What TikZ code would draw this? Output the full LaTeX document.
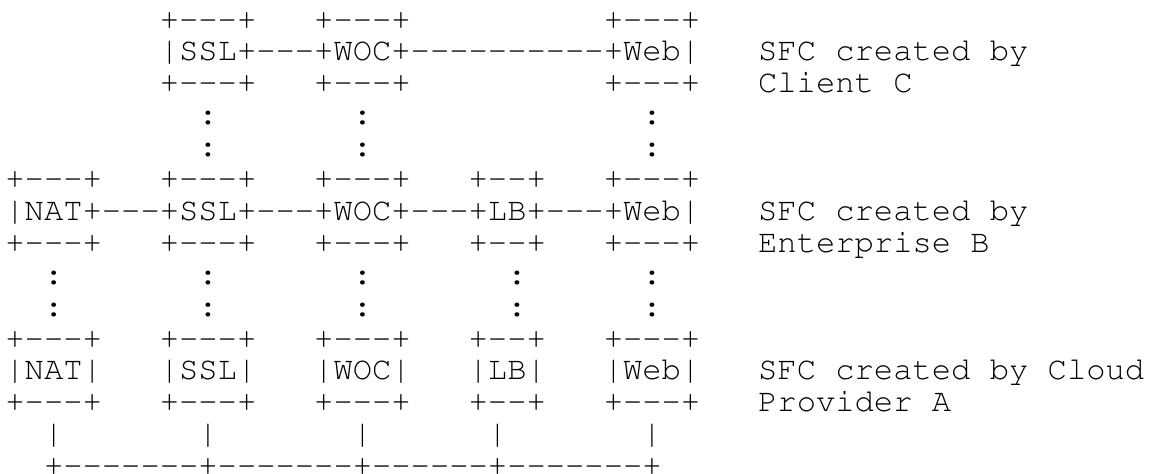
\documentclass[tikz,border=0pt]{standalone}
\usepackage[T1]{fontenc}
\usepackage{courier}
\newcommand\asciifont{\ttfamily\fontsize{32.17pt}{31.9pt}\selectfont}
\tikzset{
  asciirow/.style={anchor=base west, inner sep=0pt, outer sep=0pt, font=\asciifont, text=black}
}
\begin{document}
\begin{tikzpicture}[x=1pt,y=1pt]
  \fill[white] (0,0) rectangle (1152,474);
  \useasboundingbox (0,0) rectangle (1152,474);
  % one text row per line of the chart; baselines 31.9pt apart;
  % -{}- keeps the font from joining hyphens into dashes
  \def\rowx{5.4}
  \def\rowtop{444.9}
  \node[asciirow] (l0)  at (\rowx,\rowtop-0*31.9)  {~~~~~~~~+-{}-{}-+~~~+-{}-{}-+~~~~~~~~~~+-{}-{}-+};
  \node[asciirow] (l1)  at (\rowx,\rowtop-1*31.9)  {~~~~~~~~|SSL+-{}-{}-+WOC+-{}-{}-{}-{}-{}-{}-{}-{}-{}-+Web|~~~SFC~created~by};
  \node[asciirow] (l2)  at (\rowx,\rowtop-2*31.9)  {~~~~~~~~+-{}-{}-+~~~+-{}-{}-+~~~~~~~~~~+-{}-{}-+~~~Client~C};
  \node[asciirow] (l3)  at (\rowx,\rowtop-3*31.9)  {~~~~~~~~~~:~~~~~~~:~~~~~~~~~~~~~~:};
  \node[asciirow] (l4)  at (\rowx,\rowtop-4*31.9)  {~~~~~~~~~~:~~~~~~~:~~~~~~~~~~~~~~:};
  \node[asciirow] (l5)  at (\rowx,\rowtop-5*31.9)  {+-{}-{}-+~~~+-{}-{}-+~~~+-{}-{}-+~~~+-{}-+~~~+-{}-{}-+};
  \node[asciirow] (l6)  at (\rowx,\rowtop-6*31.9)  {|NAT+-{}-{}-+SSL+-{}-{}-+WOC+-{}-{}-+LB+-{}-{}-+Web|~~~SFC~created~by};
  \node[asciirow] (l7)  at (\rowx,\rowtop-7*31.9)  {+-{}-{}-+~~~+-{}-{}-+~~~+-{}-{}-+~~~+-{}-+~~~+-{}-{}-+~~~Enterprise~B};
  \node[asciirow] (l8)  at (\rowx,\rowtop-8*31.9)  {~~:~~~~~~~:~~~~~~~:~~~~~~~:~~~~~~:};
  \node[asciirow] (l9)  at (\rowx,\rowtop-9*31.9)  {~~:~~~~~~~:~~~~~~~:~~~~~~~:~~~~~~:};
  \node[asciirow] (l10) at (\rowx,\rowtop-10*31.9) {+-{}-{}-+~~~+-{}-{}-+~~~+-{}-{}-+~~~+-{}-+~~~+-{}-{}-+};
  \node[asciirow] (l11) at (\rowx,\rowtop-11*31.9) {|NAT|~~~|SSL|~~~|WOC|~~~|LB|~~~|Web|~~~SFC~created~by~Cloud};
  \node[asciirow] (l12) at (\rowx,\rowtop-12*31.9) {+-{}-{}-+~~~+-{}-{}-+~~~+-{}-{}-+~~~+-{}-+~~~+-{}-{}-+~~~Provider~A};
  \node[asciirow] (l13) at (\rowx,\rowtop-13*31.9) {~~|~~~~~~~|~~~~~~~|~~~~~~|~~~~~~~|};
  \node[asciirow] (l14) at (\rowx,\rowtop-14*31.9) {~~+-{}-{}-{}-{}-{}-{}-+-{}-{}-{}-{}-{}-{}-+-{}-{}-{}-{}-{}-+-{}-{}-{}-{}-{}-{}-+};
\end{tikzpicture}
\end{document}
